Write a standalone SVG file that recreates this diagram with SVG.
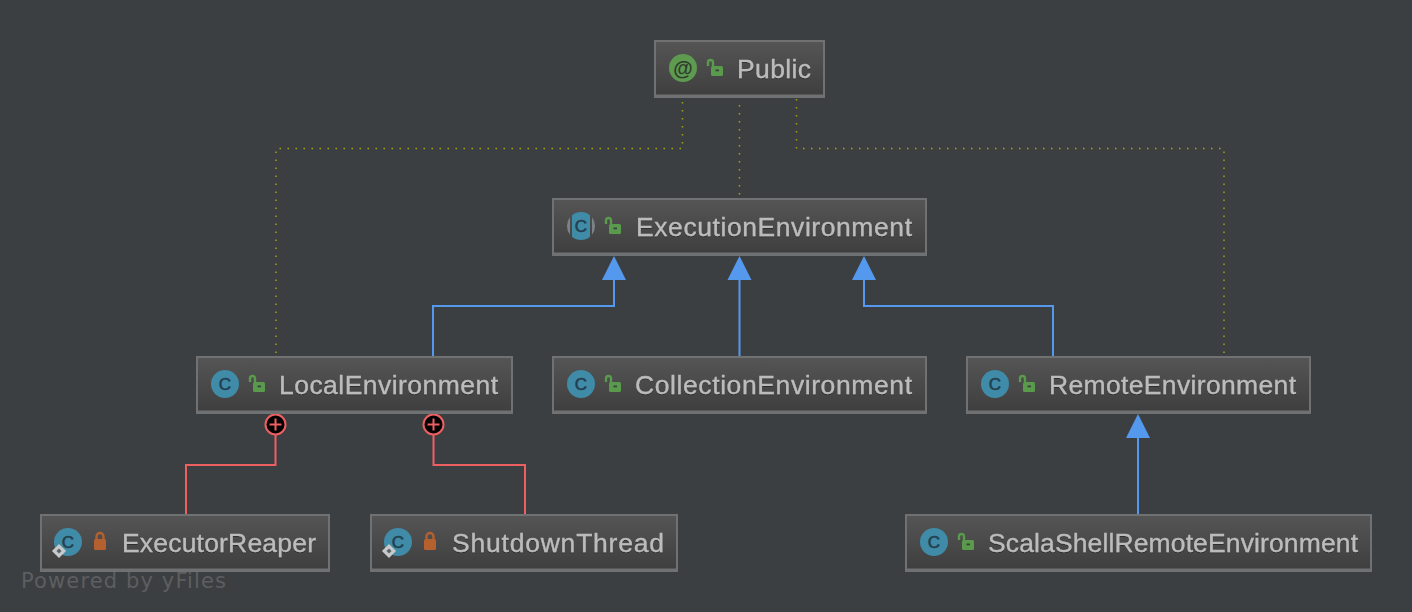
<svg xmlns="http://www.w3.org/2000/svg" width="1412" height="612" viewBox="0 0 1412 612">
<style>
.box{fill:url(#nodeFill);stroke:#6f7173;stroke-width:2}
.base{fill:none;stroke:#6f7173;stroke-width:2}
.label{font-family:"Liberation Sans",Arial,sans-serif;font-size:26.500px;fill:#bcbcbc;stroke:#bcbcbc;stroke-width:.3;filter:url(#shade)}
.ci{fill:#3f8ba8}
.cl{font-family:"Liberation Sans",Arial,sans-serif;font-size:17px;fill:#23404f;stroke:#23404f;stroke-width:.6;text-anchor:middle}
.dot{fill:none;stroke:#a3a312;stroke-width:1.500;stroke-dasharray:1.500 6.500}
.inh{fill:none;stroke:#5599ee;stroke-width:2}
.head{fill:#5599ee}
.inner{fill:none;stroke:#ee5f62;stroke-width:2}
.plus{fill:#000;stroke:#ee5f62;stroke-width:2}
.pl{fill:none;stroke:#ee5f62;stroke-width:2}
</style>
<defs>
<filter id="shade" x="-5%" y="-20%" width="110%" height="150%"><feDropShadow dx="0" dy="1" stdDeviation=".6" flood-color="#222222" flood-opacity=".7"/></filter>
<linearGradient id="nodeFill" x1="0" y1="0" x2="0" y2="1"><stop offset="0" stop-color="#555555"/><stop offset="1" stop-color="#3e3e3e"/></linearGradient>
<g id="openLock"><path d="M-6 -3V-6.500a2.500 2.500 0 0 1 5 0V-3" fill="none" stroke="#5a9a4c" stroke-width="2.400"/><rect x="-3" y="-3" width="12" height="10" rx="1.500" fill="#5a9a4c"/><rect x="1.500" y="0.500" width="3.500" height="1.800" fill="#3c3f41"/></g>
<g id="closedLock"><path d="M-3.500 -1V-4.500a3.500 3.500 0 0 1 7 0V-1" fill="none" stroke="#b5602f" stroke-width="2.400"/><rect x="-6" y="-2" width="12" height="11" rx="1.500" fill="#b5602f"/></g>
<g id="diamond"><rect x="-5" y="-5" width="10" height="10" transform="rotate(45)" fill="#c7c9cb"/><rect x="-1.800" y="-1.800" width="3.600" height="3.600" transform="rotate(45)" fill="#57636a"/></g>
</defs>
<rect width="1412" height="612" fill="#3c3f41"/>
<g id="connectors">
<path class="dot" d="M682.500 102V148.500H276V356"/>
<path class="dot" d="M739.500 105V198"/>
<path class="dot" d="M796.500 99V148.500H1224V356"/>
<path class="inh" d="M433 356V306H614V278"/>
<path class="inh" d="M739.500 356V278"/>
<path class="inh" d="M1053 356V306H864V278"/>
<path class="inh" d="M1138 514V436"/>
<polygon class="head" points="614,256 626,280 602,280"/>
<polygon class="head" points="739.500,256 751.500,280 727.500,280"/>
<polygon class="head" points="864,256 876,280 852,280"/>
<polygon class="head" points="1138,414 1150,438 1126,438"/>
<path class="inner" d="M275.500 435V465H186V514"/>
<path class="inner" d="M433.500 435V465H525V514"/>
<circle class="plus" cx="275.500" cy="424.500" r="10"/><path class="pl" d="M269.500 424.500H281.500M275.500 418.500V430.500"/>
<circle class="plus" cx="433.500" cy="424.500" r="10"/><path class="pl" d="M427.500 424.500H439.500M433.500 418.500V430.500"/>
</g>
<g id="node-public"><rect class="box" x="655" y="41" width="169" height="56"/><path class="base" d="M656 95.500H823"/>
<circle cx="683" cy="68" r="14" fill="#5e9a50"/><text x="683" y="75" font-family="'Liberation Sans',Arial,sans-serif" font-size="20" font-weight="bold" fill="#2f3d2c" text-anchor="middle">@</text>
<use href="#openLock" x="714" y="69"/><text class="label" x="737" y="78" textLength="74">Public</text></g>
<g id="node-execution"><rect class="box" x="553" y="199" width="373" height="56"/><path class="base" d="M554 253.500H925"/>
<path d="M570 217.300A14 14 0 0 0 570 234.700ZM592 217.300A14 14 0 0 1 592 234.700Z" fill="#7d8288"/>
<path d="M572 215.300A14 14 0 0 1 590 215.300V236.700A14 14 0 0 1 572 236.700Z" fill="#3f8ba8"/><text class="cl" x="581" y="232">C</text>
<use href="#openLock" x="612" y="227"/><text class="label" x="636" y="236" textLength="276">ExecutionEnvironment</text></g>
<g id="node-local"><rect class="box" x="197" y="357" width="315" height="56"/><path class="base" d="M198 411.500H511"/>
<circle class="ci" cx="225" cy="384" r="14"/><text class="cl" x="225" y="390">C</text>
<use href="#openLock" x="256" y="385"/><text class="label" x="279" y="394" textLength="219">LocalEnvironment</text></g>
<g id="node-collection"><rect class="box" x="553" y="357" width="373" height="56"/><path class="base" d="M554 411.500H925"/>
<circle class="ci" cx="581" cy="384" r="14"/><text class="cl" x="581" y="390">C</text>
<use href="#openLock" x="612" y="385"/><text class="label" x="635" y="394" textLength="277">CollectionEnvironment</text></g>
<g id="node-remote"><rect class="box" x="967" y="357" width="343" height="56"/><path class="base" d="M968 411.500H1309"/>
<circle class="ci" cx="995" cy="384" r="14"/><text class="cl" x="995" y="390">C</text>
<use href="#openLock" x="1026" y="385"/><text class="label" x="1049" y="394" textLength="247">RemoteEnvironment</text></g>
<g id="node-reaper"><rect class="box" x="41" y="515" width="288" height="56"/><path class="base" d="M42 569.500H328"/>
<circle class="ci" cx="68" cy="542" r="14"/><text class="cl" x="68" y="548">C</text>
<use href="#diamond" x="59" y="551"/><use href="#closedLock" x="100" y="541"/><text class="label" x="122" y="552" textLength="194">ExecutorReaper</text></g>
<g id="node-shutdown"><rect class="box" x="371" y="515" width="306" height="56"/><path class="base" d="M372 569.500H676"/>
<circle class="ci" cx="398" cy="542" r="14"/><text class="cl" x="398" y="548">C</text>
<use href="#diamond" x="389" y="551"/><use href="#closedLock" x="430" y="541"/><text class="label" x="452" y="552" textLength="212">ShutdownThread</text></g>
<g id="node-scala"><rect class="box" x="906" y="515" width="465" height="56"/><path class="base" d="M907 569.500H1370"/>
<circle class="ci" cx="934" cy="542" r="14"/><text class="cl" x="934" y="548">C</text>
<use href="#openLock" x="965" y="543"/><text class="label" x="988" y="552" textLength="370">ScalaShellRemoteEnvironment</text></g>
<text x="21" y="588" font-family="'DejaVu Sans',sans-serif" font-size="21" fill="#5c5e60" textLength="205">Powered by yFiles</text>
</svg>
